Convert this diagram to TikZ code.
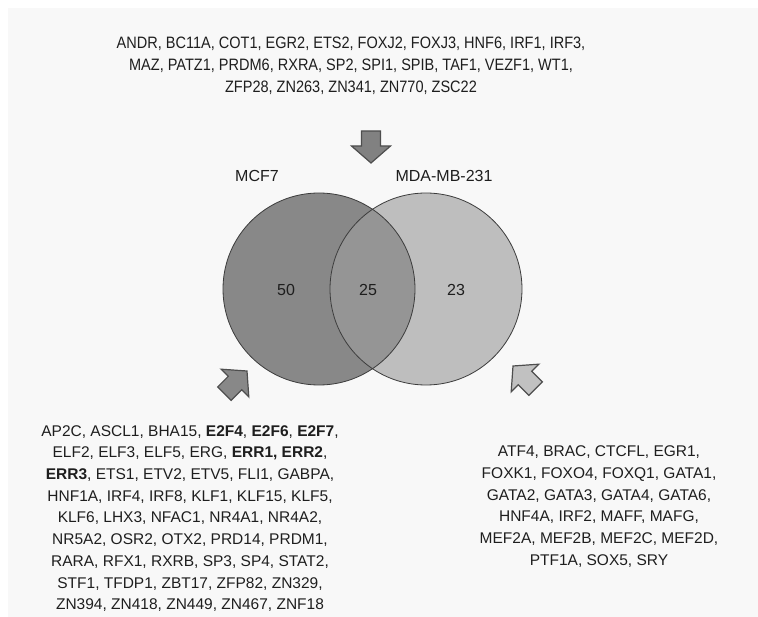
\documentclass[tikz,border=0pt]{standalone}
\usepackage{fontspec}
\setmainfont{Liberation Sans}
\newfontfamily\narrowsans[FakeStretch=0.88]{Liberation Sans}
\definecolor{panelbg}{HTML}{F8F8F8}
\definecolor{leftfill}{HTML}{888888}
\definecolor{rightfill}{HTML}{BEBEBE}
\definecolor{midfill}{HTML}{959595}
\definecolor{edgegray}{HTML}{3C3C3C}
\definecolor{arrowedge}{HTML}{4E4E4E}
\definecolor{txt}{HTML}{1E1E1E}
\begin{document}
\begin{tikzpicture}[x=1pt,y=-1pt,
  lbl/.style={inner sep=0pt, text=txt, align=center, font=\fontsize{15.5}{21.7}\selectfont},
  toplbl/.style={lbl, font=\narrowsans\fontsize{16.5}{22}\selectfont},
  numlbl/.style={inner sep=0pt, text=txt, font=\fontsize{16}{18}\selectfont},
  vennedge/.style={draw=edgegray, line width=0.8pt},
  blockarrow/.style={draw=arrowedge, line width=1.2pt, line join=miter}
]
\useasboundingbox (0,0) rectangle (758,617);
\fill[panelbg] (8,8) rectangle (758,617);

% Venn circles
\fill[leftfill] (319,289) circle[radius=96pt];
\fill[rightfill] (426,289) circle[radius=96pt];
\begin{scope}
  \clip (319,289) circle[radius=96pt];
  \fill[midfill] (426,289) circle[radius=96pt];
\end{scope}
\node[circle, minimum size=192pt, inner sep=0pt, vennedge] (mcf) at (319,289) {};
\node[circle, minimum size=192pt, inner sep=0pt, vennedge] (mda) at (426,289) {};

% labels
\node[numlbl] (mcflbl) at (257,176) {MCF7};
\node[numlbl] (mdalbl) at (444,176) {MDA-MB-231};
\node[numlbl] (n50) at (286,290) {50};
\node[numlbl] (n25) at (368,290) {25};
\node[numlbl] (n23) at (456,290) {23};

% block arrows
\filldraw[blockarrow, fill=leftfill!95!black] (371,163) -- (351.5,146) -- (361.5,146) -- (361.5,131)
  -- (380.5,131) -- (380.5,146) -- (390.5,146) -- cycle;
\filldraw[blockarrow, fill=leftfill] (247,371) -- (248.8,396.8) -- (241.7,389.7) -- (231.1,400.4)
  -- (217.7,386.9) -- (228.3,376.3) -- (221.2,369.2) -- cycle;
\filldraw[blockarrow, fill=rightfill!95!white] (513,366) -- (538.8,364.2) -- (531.7,371.3) -- (542.4,381.9)
  -- (528.9,395.4) -- (518.3,384.7) -- (511.2,391.8) -- cycle;

% gene lists
\node[toplbl] (common) at (351,66) {ANDR, BC11A, COT1, EGR2, ETS2, FOXJ2, FOXJ3, HNF6, IRF1, IRF3,\\
MAZ, PATZ1, PRDM6, RXRA, SP2, SPI1, SPIB, TAF1, VEZF1, WT1,\\
ZFP28, ZN263, ZN341, ZN770, ZSC22};

\node[lbl] (mcflist) at (190,518.5) {AP2C, ASCL1, BHA15, \textbf{E2F4}, \textbf{E2F6}, \textbf{E2F7},\\
ELF2, ELF3, ELF5, ERG, \textbf{ERR1, ERR2},\\
\textbf{ERR3}, ETS1, ETV2, ETV5, FLI1, GABPA,\\
HNF1A, IRF4, IRF8, KLF1, KLF15, KLF5,\\
KLF6, LHX3, NFAC1, NR4A1, NR4A2,\\
NR5A2, OSR2, OTX2, PRD14, PRDM1,\\
RARA, RFX1, RXRB, SP3, SP4, STAT2,\\
STF1, TFDP1, ZBT17, ZFP82, ZN329,\\
ZN394, ZN418, ZN449, ZN467, ZNF18};

\node[lbl] (mdalist) at (599,506.5) {ATF4, BRAC, CTCFL, EGR1,\\
FOXK1, FOXO4, FOXQ1, GATA1,\\
GATA2, GATA3, GATA4, GATA6,\\
HNF4A, IRF2, MAFF, MAFG,\\
MEF2A, MEF2B, MEF2C, MEF2D,\\
PTF1A, SOX5, SRY};
\end{tikzpicture}
\end{document}
